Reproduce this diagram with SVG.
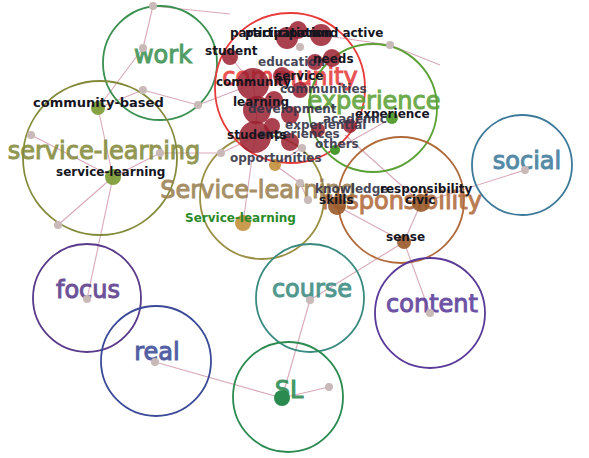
<svg xmlns="http://www.w3.org/2000/svg" width="589" height="458" viewBox="0 0 589 458">
<style>
.ring{fill:none;stroke-width:1.8}
.big{font-family:"DejaVu Sans",sans-serif;font-size:24px;text-anchor:middle;stroke-width:1;opacity:0.88}
.sm{font-family:"DejaVu Sans",sans-serif;font-size:12px;font-weight:bold;fill:#15151f}
.sg{font-family:"DejaVu Sans",sans-serif;font-size:12px;font-weight:bold;fill:#343448;opacity:0.9}
.gd{fill:#c9b9b9}
.rd{fill:#9b2030;opacity:0.85}
#edges line{stroke:#d9a9b9;stroke-width:1.1}
</style>
<rect width="589" height="458" fill="#fff"/>
<g id="edges">
<line x1="153" y1="6" x2="143" y2="48"/>
<line x1="153" y1="6" x2="230" y2="14"/>
<line x1="143" y1="48" x2="98" y2="108"/>
<line x1="143" y1="90" x2="198" y2="105"/>
<line x1="98" y1="108" x2="143" y2="90"/>
<line x1="98" y1="108" x2="113" y2="177"/>
<line x1="113" y1="177" x2="31" y2="135"/>
<line x1="113" y1="177" x2="58" y2="225"/>
<line x1="113" y1="177" x2="87" y2="299"/>
<line x1="113" y1="177" x2="160" y2="153"/>
<line x1="160" y1="153" x2="221" y2="153"/>
<line x1="221" y1="153" x2="255" y2="137"/>
<line x1="198" y1="105" x2="253" y2="84"/>
<line x1="255" y1="137" x2="243" y2="223"/>
<line x1="275" y1="165" x2="300" y2="183"/>
<line x1="300" y1="183" x2="308" y2="200"/>
<line x1="302" y1="148" x2="275" y2="165"/>
<line x1="337" y1="206" x2="404" y2="242"/>
<line x1="404" y1="242" x2="421" y2="203"/>
<line x1="421" y1="203" x2="525" y2="170"/>
<line x1="404" y1="242" x2="430" y2="313"/>
<line x1="404" y1="242" x2="310" y2="300"/>
<line x1="310" y1="300" x2="282" y2="398"/>
<line x1="282" y1="398" x2="329" y2="387"/>
<line x1="282" y1="398" x2="155" y2="362"/>
<line x1="320" y1="35" x2="390" y2="45"/>
<line x1="390" y1="45" x2="440" y2="65"/>
<line x1="345" y1="135" x2="421" y2="203"/>
<line x1="392" y1="118" x2="335" y2="150"/>
<line x1="253" y1="84" x2="257" y2="110"/>
<line x1="257" y1="110" x2="255" y2="137"/>
<line x1="230" y1="57" x2="253" y2="84"/>
</g>
<g id="n-work"><circle class="ring" cx="160" cy="63" r="57" stroke="#3a9050"/><text class="big" x="163" y="63" fill="#3a9050" stroke="#3a9050">work</text></g>
<g id="n-service-learning"><circle class="ring" cx="100" cy="158" r="77" stroke="#838a3a"/><text class="big" x="104" y="159" fill="#838a3a" stroke="#838a3a">service-learning</text></g>
<g id="n-Service-learning"><circle class="ring" cx="262" cy="197" r="62" stroke="#9a9045"/><text class="big" x="258" y="198" fill="#9a8050" stroke="#9a8050">Service-learning</text></g>
<g id="n-community"><circle class="ring" cx="290" cy="88" r="75" stroke="#e83a3a"/><text class="big" x="290" y="85" fill="#e83a3a" stroke="#e83a3a">community</text></g>
<g id="n-experience"><circle class="ring" cx="373" cy="108" r="64" stroke="#5aa035"/><text class="big" x="374" y="109" fill="#5aa035" stroke="#5aa035">experience</text></g>
<g id="n-responsibility"><circle class="ring" cx="401" cy="200" r="63" stroke="#b0693a"/><text class="big" x="402" y="209" fill="#b0693a" stroke="#b0693a">responsibility</text></g>
<g id="n-social"><circle class="ring" cx="522" cy="165" r="50" stroke="#3d7a9a"/><text class="big" x="527" y="169" fill="#3d7a9a" stroke="#3d7a9a">social</text></g>
<g id="n-focus"><circle class="ring" cx="87" cy="298" r="54" stroke="#5a3a8a"/><text class="big" x="88" y="298" fill="#5a3a8a" stroke="#5a3a8a">focus</text></g>
<g id="n-real"><circle class="ring" cx="156" cy="361" r="55" stroke="#3a4a98"/><text class="big" x="157" y="360" fill="#3a4a98" stroke="#3a4a98">real</text></g>
<g id="n-course"><circle class="ring" cx="310" cy="298" r="54" stroke="#3a8a80"/><text class="big" x="312" y="297" fill="#3a8a80" stroke="#3a8a80">course</text></g>
<g id="n-content"><circle class="ring" cx="430" cy="313" r="55" stroke="#5a3a98"/><text class="big" x="432" y="312" fill="#5a3a98" stroke="#5a3a98">content</text></g>
<g id="n-SL"><circle class="ring" cx="288" cy="397" r="55" stroke="#2a8a50"/><text class="big" x="289" y="398" fill="#2a8a50" stroke="#2a8a50">SL</text></g>
<g id="dots">
<circle class="gd" cx="153" cy="6" r="4"/><circle class="gd" cx="143" cy="48" r="4"/><circle class="gd" cx="143" cy="90" r="4"/><circle class="gd" cx="198" cy="105" r="4"/>
<circle class="gd" cx="31" cy="135" r="4"/><circle class="gd" cx="58" cy="225" r="4"/><circle class="gd" cx="160" cy="153" r="4"/><circle class="gd" cx="221" cy="153" r="4"/>
<circle class="gd" cx="390" cy="45" r="4"/><circle class="gd" cx="300" cy="47" r="4"/><circle class="gd" cx="302" cy="148" r="4"/><circle class="gd" cx="300" cy="183" r="4"/><circle class="gd" cx="308" cy="200" r="4"/>
<circle class="gd" cx="525" cy="170" r="4"/><circle class="gd" cx="430" cy="313" r="4"/><circle class="gd" cx="310" cy="300" r="4"/><circle class="gd" cx="329" cy="387" r="4"/><circle class="gd" cx="155" cy="362" r="4"/><circle class="gd" cx="87" cy="299" r="4"/>
<circle class="rd" cx="230" cy="57" r="8"/><circle class="rd" cx="287" cy="38" r="11"/><circle class="rd" cx="298" cy="30" r="9"/><circle class="rd" cx="321" cy="35" r="11"/>
<circle class="rd" cx="315" cy="62" r="8"/><circle class="rd" cx="332" cy="58" r="9"/><circle class="rd" cx="253" cy="84" r="16"/><circle class="rd" cx="282" cy="76" r="9"/>
<circle class="rd" cx="300" cy="90" r="8"/><circle class="rd" cx="257" cy="110" r="14"/><circle class="rd" cx="274" cy="100" r="9"/><circle class="rd" cx="290" cy="115" r="9"/>
<circle class="rd" cx="318" cy="130" r="7"/><circle class="rd" cx="255" cy="137" r="16"/><circle class="rd" cx="290" cy="142" r="9"/><circle class="rd" cx="272" cy="126" r="8"/><circle class="rd" cx="350" cy="126" r="7"/>
<circle cx="335" cy="150" r="5" fill="#4a9a30"/><circle cx="392" cy="118" r="6" fill="#5aa035"/>
<circle cx="275" cy="165" r="6" fill="#c08a30" opacity="0.85"/><circle cx="243" cy="223" r="8" fill="#c08a30" opacity="0.85"/>
<circle cx="98" cy="108" r="7" fill="#7a9a30" opacity="0.9"/><circle cx="113" cy="177" r="8" fill="#7a9a30" opacity="0.9"/>
<circle cx="337" cy="206" r="9" fill="#9a5a2a" opacity="0.9"/><circle cx="421" cy="203" r="9" fill="#9a5a2a" opacity="0.9"/><circle cx="404" cy="242" r="7" fill="#9a5a2a" opacity="0.9"/>
<circle cx="282" cy="398" r="8" fill="#2a8a50"/>
</g>
<g id="labels">
<text class="sm" x="230" y="37">participation</text>
<text class="sm" x="245" y="37">participation</text>
<text class="sm" x="313" y="37">and active</text>
<text class="sm" x="205" y="55">student</text>
<text class="sg" x="258" y="66">education</text>
<text class="sm" x="313" y="63">needs</text>
<text class="sm" x="275" y="80">service</text>
<text class="sm" x="216" y="86">community</text>
<text class="sg" x="280" y="93">communities</text>
<text class="sm" x="233" y="106">learning</text>
<text class="sg" x="248" y="113">development</text>
<text class="sm" x="355" y="118">experience</text>
<text class="sg" x="323" y="123">academic</text>
<text class="sg" x="285" y="129">experiential</text>
<text class="sg" x="258" y="138">experiences</text>
<text class="sm" x="227" y="139">students</text>
<text class="sg" x="315" y="148">others</text>
<text class="sg" x="230" y="162">opportunities</text>
<text class="sm" x="33" y="107" style="font-size:13px">community-based</text>
<text class="sm" x="56" y="176">service-learning</text>
<text class="sm" x="185" y="222" style="fill:#2a8a2a">Service-learning</text>
<text class="sg" x="315" y="193">knowledge</text>
<text class="sm" x="380" y="193">responsibility</text>
<text class="sm" x="319" y="204">skills</text>
<text class="sm" x="405" y="204">civic</text>
<text class="sm" x="386" y="241">sense</text>
</g>
</svg>
